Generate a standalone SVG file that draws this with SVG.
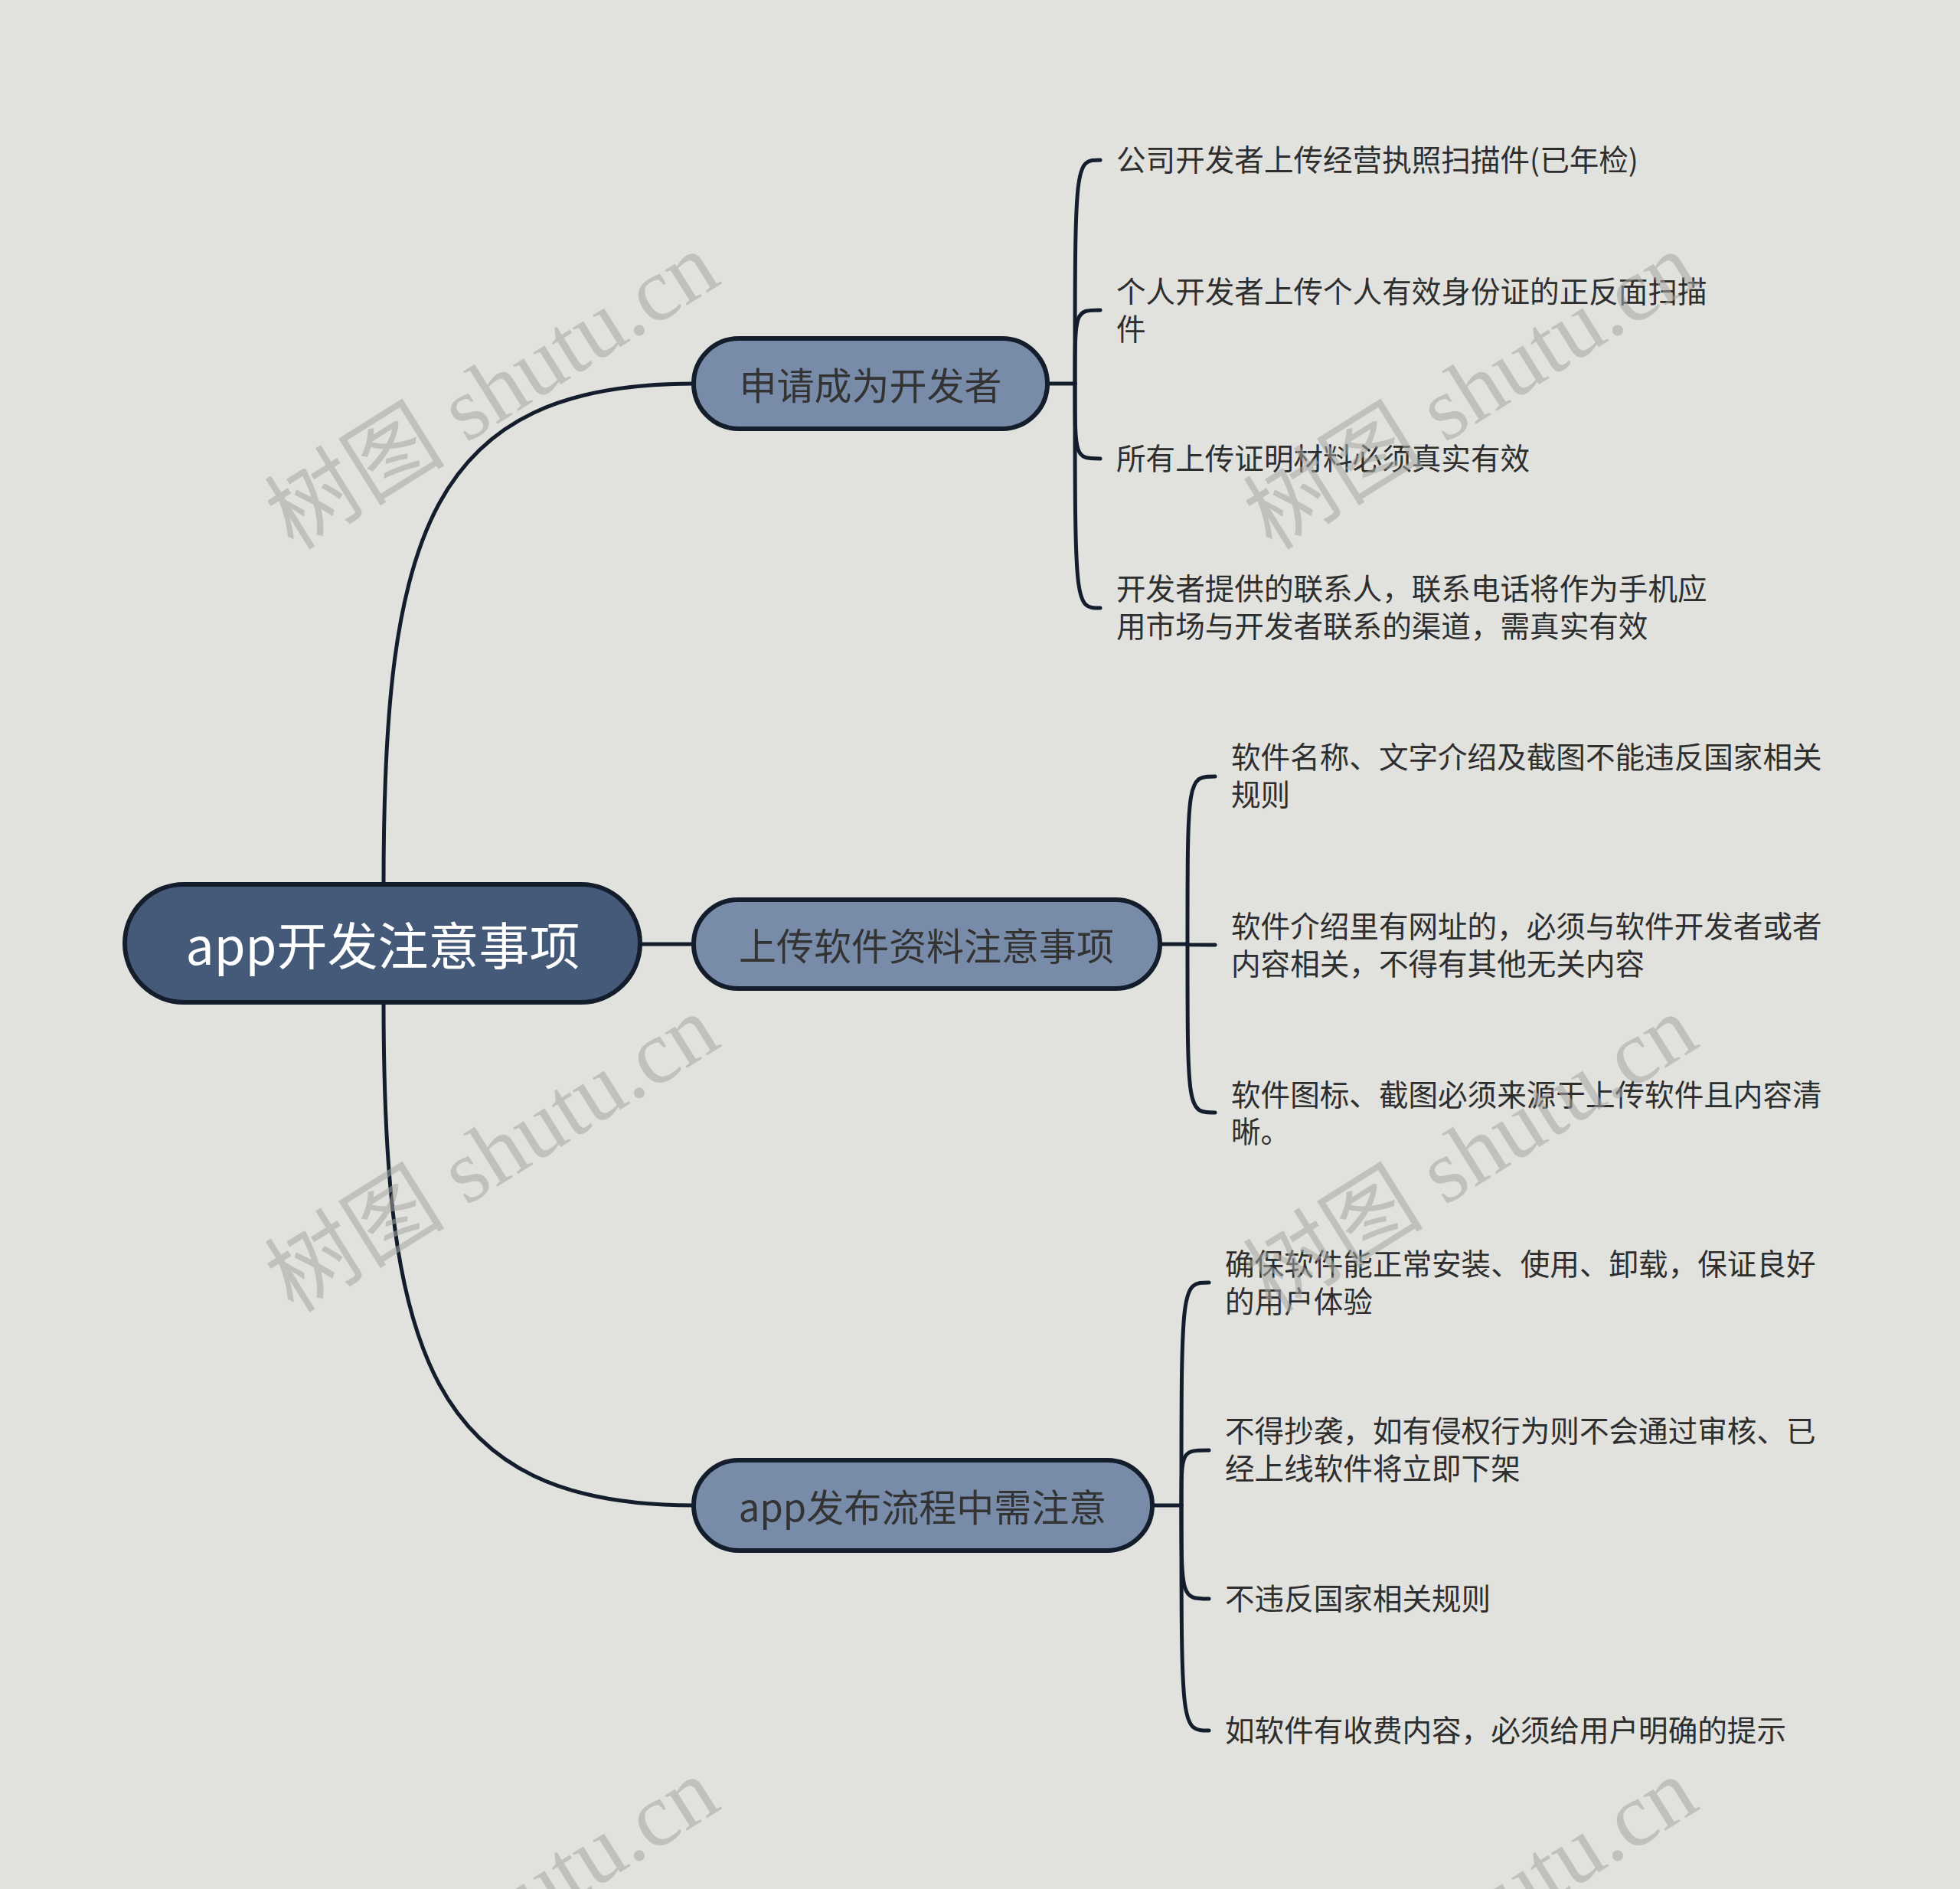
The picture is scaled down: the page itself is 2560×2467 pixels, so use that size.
<svg xmlns="http://www.w3.org/2000/svg" width="2560" height="2467" viewBox="0 0 2560 2467">
<style>
.bg{fill:#e1e2de}
.wm{font-family:"Liberation Serif","Noto Sans CJK SC",serif;font-size:118px;fill:#a6a7a3;opacity:0.55}
.con{fill:none;stroke:#141d2c;stroke-width:5;stroke-linecap:round}
.root{fill:#445a78;stroke:#141d2c;stroke-width:6}
.br{fill:#788ca9;stroke:#141d2c;stroke-width:6}
.rt{font-family:"Noto Sans CJK SC","Noto Sans",sans-serif;font-size:66px;fill:#ffffff;text-anchor:middle;dominant-baseline:central}
.bt{font-family:"Noto Sans CJK SC","Noto Sans",sans-serif;font-size:49px;fill:#333333;text-anchor:middle;dominant-baseline:central}
.lt{font-family:"Noto Sans CJK SC","Noto Sans",sans-serif;font-size:38.6px;fill:#2e2e2e;dominant-baseline:central}
</style>
<rect class="bg" x="0" y="0" width="2560" height="2467"/>
<g id="connectors">
<path class="con" d="M501 1154 C501 700 560 501 906 501"/>
<path class="con" d="M836 1233 L906 1233"/>
<path class="con" d="M501 1309 C501 1763 560 1966 906 1966"/>
<path class="con" d="M1368 501 L1404 501"/>
<path class="con" d="M1404 501 C1404 209 1404 209 1437 209"/>
<path class="con" d="M1404 501 C1404 405 1404 405 1437 405"/>
<path class="con" d="M1404 501 C1404 599 1404 599 1437 599"/>
<path class="con" d="M1404 501 C1404 794 1404 794 1437 794"/>
<path class="con" d="M1515 1233 L1551 1233"/>
<path class="con" d="M1551 1233 C1551 1014 1551 1014 1587 1014"/>
<path class="con" d="M1551 1233 C1551 1234 1551 1234 1587 1234"/>
<path class="con" d="M1551 1233 C1551 1453 1551 1453 1587 1453"/>
<path class="con" d="M1505 1966 L1543 1966"/>
<path class="con" d="M1543 1966 C1543 1675 1543 1675 1579 1675"/>
<path class="con" d="M1543 1966 C1543 1894 1543 1894 1579 1894"/>
<path class="con" d="M1543 1966 C1543 2088 1543 2088 1579 2088"/>
<path class="con" d="M1543 1966 C1543 2260 1543 2260 1579 2260"/>
</g>
<g id="root">
<rect class="root" x="163" y="1155" width="673" height="154" rx="77"/>
<text class="rt" x="500" y="1231">app开发注意事项</text>
</g>
<g id="b1">
<rect class="br" x="906" y="442" width="462" height="118" rx="59"/>
<text class="bt" x="1137" y="500">申请成为开发者</text>
</g>
<g id="b2">
<rect class="br" x="906" y="1175" width="609" height="116" rx="58"/>
<text class="bt" x="1210" y="1232">上传软件资料注意事项</text>
</g>
<g id="b3">
<rect class="br" x="906" y="1907" width="599" height="118" rx="59"/>
<text class="bt" x="1205" y="1965">app发布流程中需注意</text>
</g>
<g id="b1l1"><text class="lt" x="1458" y="206">公司开发者上传经营执照扫描件(已年检)</text></g>
<g id="b1l2"><text class="lt" x="1458" y="378">个人开发者上传个人有效身份证的正反面扫描</text><text class="lt" x="1458" y="427">件</text></g>
<g id="b1l3"><text class="lt" x="1458" y="596">所有上传证明材料必须真实有效</text></g>
<g id="b1l4"><text class="lt" x="1458" y="766">开发者提供的联系人，联系电话将作为手机应</text><text class="lt" x="1458" y="815">用市场与开发者联系的渠道，需真实有效</text></g>
<g id="b2l1"><text class="lt" x="1608" y="986">软件名称、文字介绍及截图不能违反国家相关</text><text class="lt" x="1608" y="1035">规则</text></g>
<g id="b2l2"><text class="lt" x="1608" y="1207">软件介绍里有网址的，必须与软件开发者或者</text><text class="lt" x="1608" y="1256">内容相关，不得有其他无关内容</text></g>
<g id="b2l3"><text class="lt" x="1608" y="1427">软件图标、截图必须来源于上传软件且内容清</text><text class="lt" x="1608" y="1475">晰。</text></g>
<g id="b3l1"><text class="lt" x="1600" y="1648">确保软件能正常安装、使用、卸载，保证良好</text><text class="lt" x="1600" y="1697">的用户体验</text></g>
<g id="b3l2"><text class="lt" x="1600" y="1866">不得抄袭，如有侵权行为则不会通过审核、已</text><text class="lt" x="1600" y="1915">经上线软件将立即下架</text></g>
<g id="b3l3"><text class="lt" x="1600" y="2085">不违反国家相关规则</text></g>
<g id="b3l4"><text class="lt" x="1600" y="2257">如软件有收费内容，必须给用户明确的提示</text></g>
<g id="watermarks">
<text class="wm" text-anchor="middle" transform="translate(645 514) rotate(-32)" y="36">树图 shutu.cn</text>
<text class="wm" text-anchor="middle" transform="translate(1923 514) rotate(-32)" y="36">树图 shutu.cn</text>
<text class="wm" text-anchor="middle" transform="translate(645 1510) rotate(-32)" y="36">树图 shutu.cn</text>
<text class="wm" text-anchor="middle" transform="translate(1923 1510) rotate(-32)" y="36">树图 shutu.cn</text>
<text class="wm" text-anchor="middle" transform="translate(645 2506) rotate(-32)" y="36">树图 shutu.cn</text>
<text class="wm" text-anchor="middle" transform="translate(1923 2506) rotate(-32)" y="36">树图 shutu.cn</text>
</g>
</svg>
